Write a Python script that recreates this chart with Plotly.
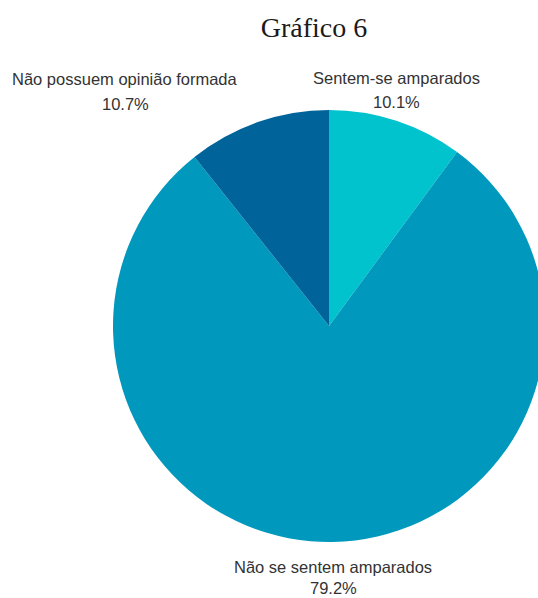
import plotly.graph_objects as go

# Survey answers, clockwise from 12 o'clock
categories = ["Sentem-se amparados", "Não se sentem amparados", "Não possuem opinião formada"]
shares = [10.1, 79.2, 10.7]
colors = ["#00C3CE", "#0099BD", "#00649B"]

W, H = 560, 598

fig = go.Figure(
    go.Pie(
        labels=categories,
        values=shares,
        sort=False,
        direction="clockwise",
        rotation=0,
        marker=dict(colors=colors, line=dict(width=0)),
        textinfo="none",
        hoverinfo="label+percent",
        showlegend=False,
        domain=dict(x=[113 / W, 545 / W], y=[56 / H, 488 / H]),
    )
)

# Category labels placed outside the pie: (x centre, name line y, value line y)
label_pos = {
    "Sentem-se amparados": (396, 78, 102),
    "Não se sentem amparados": (333, 567, 588),
    "Não possuem opinião formada": (125, 79, 104),
}
label_font = dict(family="Liberation Sans, Arial, sans-serif", size=16.5, color="#333333")
for name, val in zip(categories, shares):
    x, y1, y2 = label_pos[name]
    for txt, y in ((name, y1), (f"{val:.1f}%", y2)):
        fig.add_annotation(
            x=x / W, y=1 - y / H, xref="paper", yref="paper",
            text=txt, showarrow=False, xanchor="center", yanchor="middle",
            font=label_font,
        )

fig.update_layout(
    width=W, height=H,
    margin=dict(l=0, r=0, t=0, b=0),
    paper_bgcolor="white",
    plot_bgcolor="white",
    title=dict(
        text="Gráfico 6",
        x=314 / W, xanchor="center",
        y=1 - 27 / H, yanchor="middle",
        font=dict(family="Liberation Serif, serif", size=28, color="#1a1a1a"),
    ),
)

fig.write_html(
    "out.html",
    post_script="document.body.style.margin='0';document.body.style.overflow='hidden';",
)
